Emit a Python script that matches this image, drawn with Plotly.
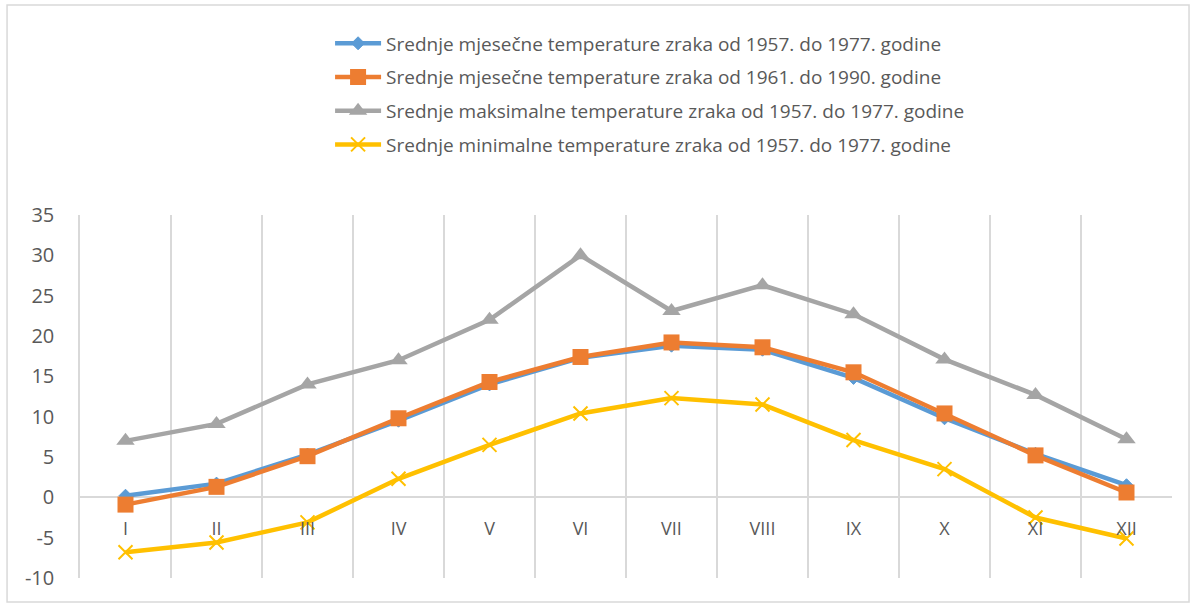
import plotly.graph_objects as go

# Months (Roman numerals) and temperature series in °C
months = ["I", "II", "III", "IV", "V", "VI", "VII", "VIII", "IX", "X", "XI", "XII"]

mean_1957_1977 = [0.2, 1.7, 5.3, 9.5, 14.0, 17.3, 18.8, 18.3, 14.8, 9.8, 5.4, 1.5]
mean_1961_1990 = [-0.9, 1.3, 5.1, 9.8, 14.3, 17.4, 19.2, 18.6, 15.5, 10.4, 5.2, 0.6]
max_1957_1977 = [7.0, 9.1, 14.0, 17.0, 22.0, 30.0, 23.1, 26.3, 22.7, 17.1, 12.7, 7.2]
min_1957_1977 = [-6.8, -5.6, -3.1, 2.3, 6.5, 10.4, 12.3, 11.5, 7.1, 3.5, -2.5, -5.1]

y_ticks = [-10, -5, 0, 5, 10, 15, 20, 25, 30, 35]
y_tick_labels = [str(v) for v in y_ticks]

names = [
    "Srednje mjesečne temperature zraka od 1957. do 1977. godine",
    "Srednje mjesečne temperature zraka od 1961. do 1990. godine",
    "Srednje maksimalne temperature zraka od 1957. do 1977. godine",
    "Srednje minimalne temperature zraka od 1957. do 1977. godine",
]

x = list(range(len(months)))
FONT = "Open Sans"
TEXT = "#595959"
GRID = "#d9d9d9"

fig = go.Figure()

styles = [
    (mean_1957_1977, "#5b9bd5", "diamond", 10, 1),
    (mean_1961_1990, "#ed7d31", "square", 16, 0),
    (max_1957_1977, "#a5a5a5", "triangle-up", 16, 0),
    (min_1957_1977, "#ffc000", "x-thin", 14, 2),
]

for i, (vals, color, symbol, size, lw) in enumerate(styles):
    fig.add_trace(go.Scatter(
        x=x, y=vals, name=names[i], mode="lines+markers",
        line=dict(color=color, width=4.5),
        marker=dict(symbol=symbol, size=size, color=color,
                    line=dict(color=color, width=lw)),
        legendgroup=str(i),
    ))

fig.update_layout(
    width=1190, height=605,
    margin=dict(l=80, r=18, t=215, b=27),
    paper_bgcolor="white", plot_bgcolor="white",
    font=dict(family=FONT, color=TEXT),
    showlegend=True,
    legend=dict(
        x=0.229, y=1.525, xanchor="left", yanchor="top",
        font=dict(family=FONT, size=19, color=TEXT),
        itemwidth=46, tracegroupgap=6, bgcolor="rgba(0,0,0,0)",
    ),
    xaxis=dict(
        range=[-0.5, 11.5], tickmode="array", tickvals=x, ticktext=months,
        showgrid=False, showline=False, zeroline=False, ticks="",
        anchor="free", position=10 / 45, ticklabelstandoff=19,
        tickfont=dict(family=FONT, size=18, color=TEXT),
        minor=dict(tickmode="array", tickvals=[v + 0.5 for v in x],
                   showgrid=True, gridcolor=GRID, gridwidth=1.5),
    ),
    yaxis=dict(
        range=[-10, 35], tickmode="array", tickvals=y_ticks,
        ticktext=y_tick_labels, showgrid=False,
        showline=True, linecolor=GRID, linewidth=1.5, ticks="",
        zeroline=True, zerolinecolor=GRID, zerolinewidth=1.5,
        ticklabelstandoff=20,
        tickfont=dict(family=FONT, size=20, color=TEXT),
    ),
    shapes=[dict(
        type="rect", xref="paper", yref="paper",
        x0=-0.0668, x1=1.0156, y0=-0.0661, y1=1.5785,
        line=dict(color=GRID, width=1.5), layer="below",
    )],
)

fig.write_html("out.html")
